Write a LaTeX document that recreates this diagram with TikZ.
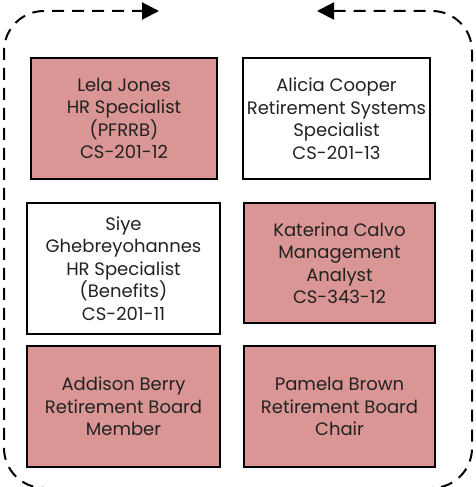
\documentclass[tikz,border=0pt]{standalone}
\usepackage{fontspec}
\setmainfont{Poppins}
\usetikzlibrary{arrows.meta}
\definecolor{rose}{HTML}{D99694}
\definecolor{ink}{HTML}{222222}
\tikzset{
  card/.style={draw=black, line width=2.4pt, inner sep=0pt, align=center,
    text=ink, font=\fontsize{18}{22.5}\selectfont},
  shaded/.style={card, fill=rose},
  plain/.style={card, fill=white},
  loop/.style={line width=2pt, dash pattern=on 12pt off 8pt, rounded corners=40pt,
    arrows={Triangle[length=17pt,width=17pt]-Triangle[length=17pt,width=17pt]}}
}
\begin{document}
\begin{tikzpicture}[x=1pt,y=-1pt]
\useasboundingbox (0,0) rectangle (475,487);
% cycle around the team
\coordinate (ls) at (317,11);
\coordinate (le) at (159,11);
\draw[loop] (ls) -- (472,11) -- (472,488) -- (4,488) -- (4,11) -- (le);
% team members
\node[shaded, minimum width=186pt, minimum height=121pt] (lela) at (124,118.5)
  {Lela Jones\\HR Specialist\\(PFRRB)\\CS-201-12};
\node[plain, minimum width=187pt, minimum height=121pt] (alicia) at (336.5,118.5)
  {Alicia Cooper\\Retirement Systems\\Specialist\\CS-201-13};
\node[plain, minimum width=193pt, minimum height=131pt] (siye) at (123.5,268.5)
  {Siye\\Ghebreyohannes\\HR Specialist\\(Benefits)\\CS-201-11};
\node[shaded, minimum width=191pt, minimum height=120pt] (katerina) at (339.5,263)
  {Katerina Calvo\\Management\\Analyst\\CS-343-12};
\node[shaded, minimum width=193pt, minimum height=121pt] (addison) at (123.5,406.5)
  {Addison Berry\\Retirement Board\\Member};
\node[shaded, minimum width=191pt, minimum height=121pt] (pamela) at (339.5,406.5)
  {Pamela Brown\\Retirement Board\\Chair};
\end{tikzpicture}
\end{document}
